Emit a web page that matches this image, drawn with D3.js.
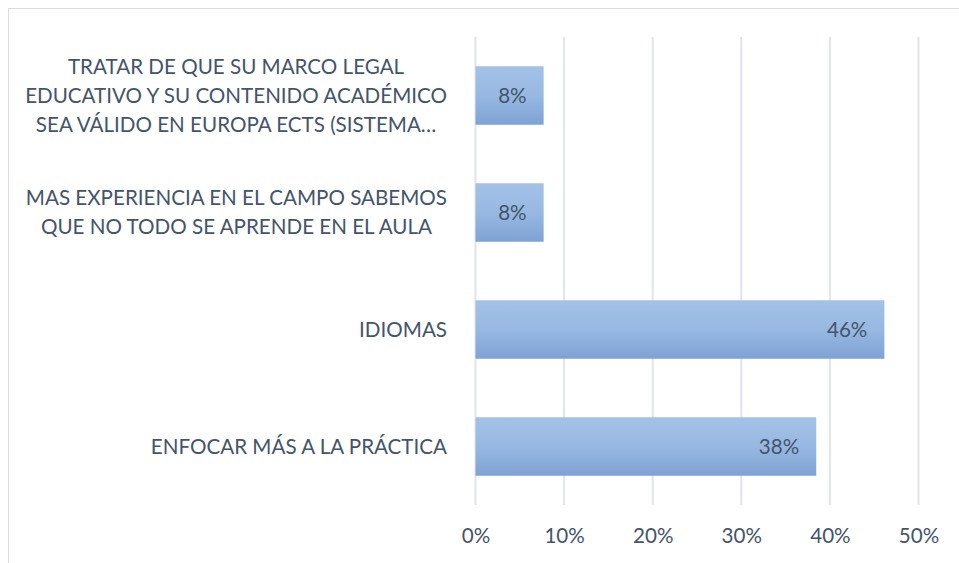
<!DOCTYPE html>
<html lang="es">
<head>
<meta charset="utf-8">
<script src="https://d3js.org/d3.v7.min.js"></script>
<style type="text/css">
body {
    margin: 0;
    background: #fff;
}
text {
    font-family: Lato, "Open Sans", sans-serif;
    fill: #44546a;
}
</style>
</head>
<body>
<div id="chart"></div>
<script type="text/javascript">

// categories, top to bottom (each one split into its wrapped lines)
var categories = [
    ["TRATAR DE QUE SU MARCO LEGAL", "EDUCATIVO Y SU CONTENIDO ACADÉMICO", "SEA VÁLIDO EN EUROPA ECTS (SISTEMA…"],
    ["MAS EXPERIENCIA EN EL CAMPO SABEMOS", "QUE NO TODO SE APRENDE EN EL AULA"],
    ["IDIOMAS"],
    ["ENFOCAR MÁS A LA PRÁCTICA"]
];
var values = [7.69, 7.69, 46.15, 38.46];
var valueLabels = ["8%", "8%", "46%", "38%"];
var ticks = [0, 10, 20, 30, 40, 50];

var width = 959;
var height = 563;
var margin = {top: 37, right: 40.5, bottom: 58, left: 475.5};
var fontSize = "20.6px";

var svg = d3.select("#chart")
            .append("svg")
            .attr("width", width)
            .attr("height", height);

// gradient for the bars
var grad = svg.append("defs").append("linearGradient")
    .attr("id", "barGrad")
    .attr("x1", 0).attr("y1", 0).attr("x2", 0).attr("y2", 1);
grad.append("stop").attr("offset", "0%").attr("stop-color", "#a4c2e7");
grad.append("stop").attr("offset", "50%").attr("stop-color", "#97b8e2");
grad.append("stop").attr("offset", "100%").attr("stop-color", "#7ea2d3");

// chart border (only top and left are visible in the picture)
svg.append("rect")
    .attr("x", 8.5).attr("y", 8.5)
    .attr("width", 1000).attr("height", 1000)
    .attr("fill", "none")
    .attr("stroke", "#d9dde3")
    .attr("stroke-width", 1);

var x = d3.scaleLinear()
    .domain([0, 50])
    .range([margin.left, width - margin.right]);

var y = d3.scaleBand()
    .domain(d3.range(categories.length))
    .range([margin.top, height - margin.bottom])
    .paddingInner(0.5)
    .paddingOuter(0.25);

// grid lines
svg.append("g")
    .selectAll("line")
    .data(ticks)
    .enter()
    .append("line")
    .attr("x1", function(d) { return x(d); })
    .attr("x2", function(d) { return x(d); })
    .attr("y1", margin.top)
    .attr("y2", height - margin.bottom)
    .attr("stroke", "#e1e4ea")
    .attr("stroke-width", 2);

// x axis labels
var xAxis = svg.append("g")
    .attr("transform", "translate(0," + (height - margin.bottom) + ")")
    .call(d3.axisBottom(x).tickValues(ticks).tickFormat(function(d) { return d + "%"; }).tickSize(0).tickPadding(23));
xAxis.select(".domain").remove();
xAxis.selectAll("text")
    .style("font-size", fontSize)
    .attr("fill", "#44546a");

// bars
svg.append("g")
    .selectAll("rect")
    .data(values)
    .enter()
    .append("rect")
    .attr("x", x(0))
    .attr("y", function(d, i) { return y(i); })
    .attr("width", function(d) { return x(d) - x(0); })
    .attr("height", y.bandwidth())
    .attr("fill", "url(#barGrad)");

// value labels inside the bar end
svg.append("g")
    .selectAll("text")
    .data(values)
    .enter()
    .append("text")
    .attr("x", function(d) { return x(d) - 17; })
    .attr("y", function(d, i) { return y(i) + y.bandwidth() / 2; })
    .attr("dy", "0.35em")
    .attr("text-anchor", "end")
    .style("font-size", fontSize)
    .text(function(d, i) { return valueLabels[i]; });

// category labels: block right aligned, lines centered inside block
var labelRight = 447;
var lineH = 29;
categories.forEach(function(lines, i) {
    var g = svg.append("g");
    var cy = y(i) + y.bandwidth() / 2;
    var txt = g.selectAll("text")
        .data(lines)
        .enter()
        .append("text")
        .attr("y", function(d, j) { return cy + (j - (lines.length - 1) / 2) * lineH; })
        .attr("dy", "0.35em")
        .attr("text-anchor", "middle")
        .style("font-size", fontSize)
        .text(function(d) { return d; });
    var maxW = 0;
    txt.each(function() { maxW = Math.max(maxW, this.getComputedTextLength()); });
    txt.attr("x", labelRight - maxW / 2);
});

</script>
</body>
</html>
